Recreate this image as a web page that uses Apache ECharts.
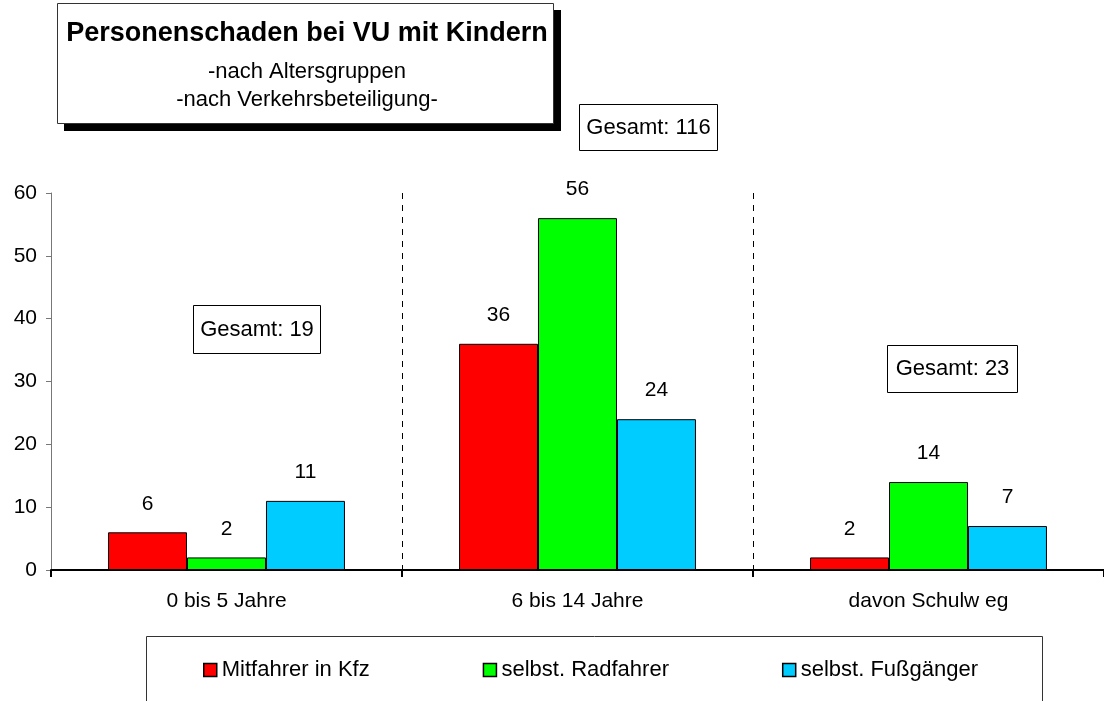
<!DOCTYPE html>
<html>
<head>
<meta charset="utf-8">
<script src="https://cdn.jsdelivr.net/npm/echarts@6/dist/echarts.min.js"></script>
<style>
  html, body { margin: 0; padding: 0; background: #fff; }
  #main { width: 1104px; height: 701px; }
</style>
</head>
<body>
<div id="main"></div>
<script>
    // Daten
    var categories = ['0 bis 5 Jahre', '6 bis 14 Jahre', 'davon Schulw eg'];
    var seriesNames = ['Mitfahrer in Kfz', 'selbst. Radfahrer', 'selbst. Fußgänger'];
    var mitfahrer = [6, 36, 2];
    var radfahrer = [2, 56, 14];
    var fussgaenger = [11, 24, 7];
    var colors = ['#ff0000', '#00ff00', '#00ccff'];

    var font = "'Liberation Sans', Arial, sans-serif";

    function gesamt(i) {
        return mitfahrer[i] + radfahrer[i] + fussgaenger[i];
    }

    // Gesamt-Boxen
    function box(x, y, w, h, text) {
        return {
            type: 'group', left: x, top: y,
            children: [
                {type: 'rect', shape: {x: 0, y: 0, width: w, height: h},
                 style: {fill: '#fff', stroke: '#000', lineWidth: 1}},
                {type: 'text', x: w / 2, y: h / 2,
                 style: {text: text, font: '22px ' + font, fill: '#000',
                         align: 'center', verticalAlign: 'middle'}}
            ]
        };
    }

    var myChart = echarts.init(document.getElementById('main'));

    var barStyle = {borderColor: '#000', borderWidth: 1};
    var labelStyle = {show: true, position: 'top', distance: 18, fontSize: 21,
                      color: '#000', fontFamily: font};

    var option = {
        animation: false,
        backgroundColor: '#fff',
        textStyle: {fontFamily: font},
        color: colors,
        grid: {left: 51, right: -2, top: 193, bottom: 131, containLabel: false},
        legend: {
            data: seriesNames,
            left: 198, top: 654,
            itemWidth: 13, itemHeight: 13, itemGap: 113,
            icon: 'rect',
            textStyle: {fontSize: 22, color: '#000', fontFamily: font},
            itemStyle: {borderColor: '#000', borderWidth: 1.5}
        },
        xAxis: {
            type: 'category',
            data: categories,
            axisLine: {lineStyle: {color: '#000', width: 2}},
            axisTick: {show: true, length: 7, lineStyle: {color: '#000', width: 2}},
            axisLabel: {fontSize: 21, color: '#000', margin: 21, fontFamily: font},
            splitLine: {show: true, lineStyle: {color: '#000', type: [6, 6], width: 1}}
        },
        yAxis: {
            type: 'value',
            min: 0, max: 60, interval: 10,
            axisLine: {show: true, lineStyle: {color: '#777', width: 1}},
            axisTick: {show: true, length: 5, lineStyle: {color: '#777'}},
            axisLabel: {fontSize: 21, color: '#000', margin: 14, fontFamily: font},
            splitLine: {show: false}
        },
        series: [
            {name: seriesNames[0], type: 'bar', data: mitfahrer, barWidth: '22.5%', barGap: '0%',
             itemStyle: barStyle, label: labelStyle},
            {name: seriesNames[1], type: 'bar', data: radfahrer, barWidth: '22.5%', barGap: '0%',
             itemStyle: barStyle, label: labelStyle},
            {name: seriesNames[2], type: 'bar', data: fussgaenger, barWidth: '22.5%', barGap: '0%',
             itemStyle: barStyle, label: labelStyle}
        ],
        graphic: [
            // Titel mit Schatten
            {type: 'rect', left: 64, top: 10, shape: {width: 497, height: 121},
             style: {fill: '#000'}, z: 10},
            {type: 'rect', left: 57, top: 3, shape: {width: 496, height: 120},
             style: {fill: '#fff', stroke: '#333', lineWidth: 1}, z: 11},
            {type: 'text', z: 12,
             style: {text: 'Personenschaden bei VU mit Kindern', font: 'bold 27px ' + font,
                     fill: '#000', x: 307, y: 34, align: 'center', verticalAlign: 'middle'}},
            {type: 'text', z: 12,
             style: {text: '-nach Altersgruppen', font: '22px ' + font,
                     fill: '#000', x: 307, y: 72, align: 'center', verticalAlign: 'middle'}},
            {type: 'text', z: 12,
             style: {text: '-nach Verkehrsbeteiligung-', font: '22px ' + font,
                     fill: '#000', x: 307, y: 100, align: 'center', verticalAlign: 'middle'}},
            box(579, 104, 138, 46, 'Gesamt: ' + gesamt(1)),
            box(193, 305, 127, 48, 'Gesamt: ' + gesamt(0)),
            box(887, 345, 130, 47, 'Gesamt: ' + gesamt(2)),
            // Legendenrahmen
            {type: 'rect', left: 144, top: 634, z: -1, silent: true,
             shape: {width: 896, height: 100},
             style: {fill: 'none', stroke: '#333', lineWidth: 1}}
        ]
    };

    myChart.setOption(option);
</script>
</body>
</html>
